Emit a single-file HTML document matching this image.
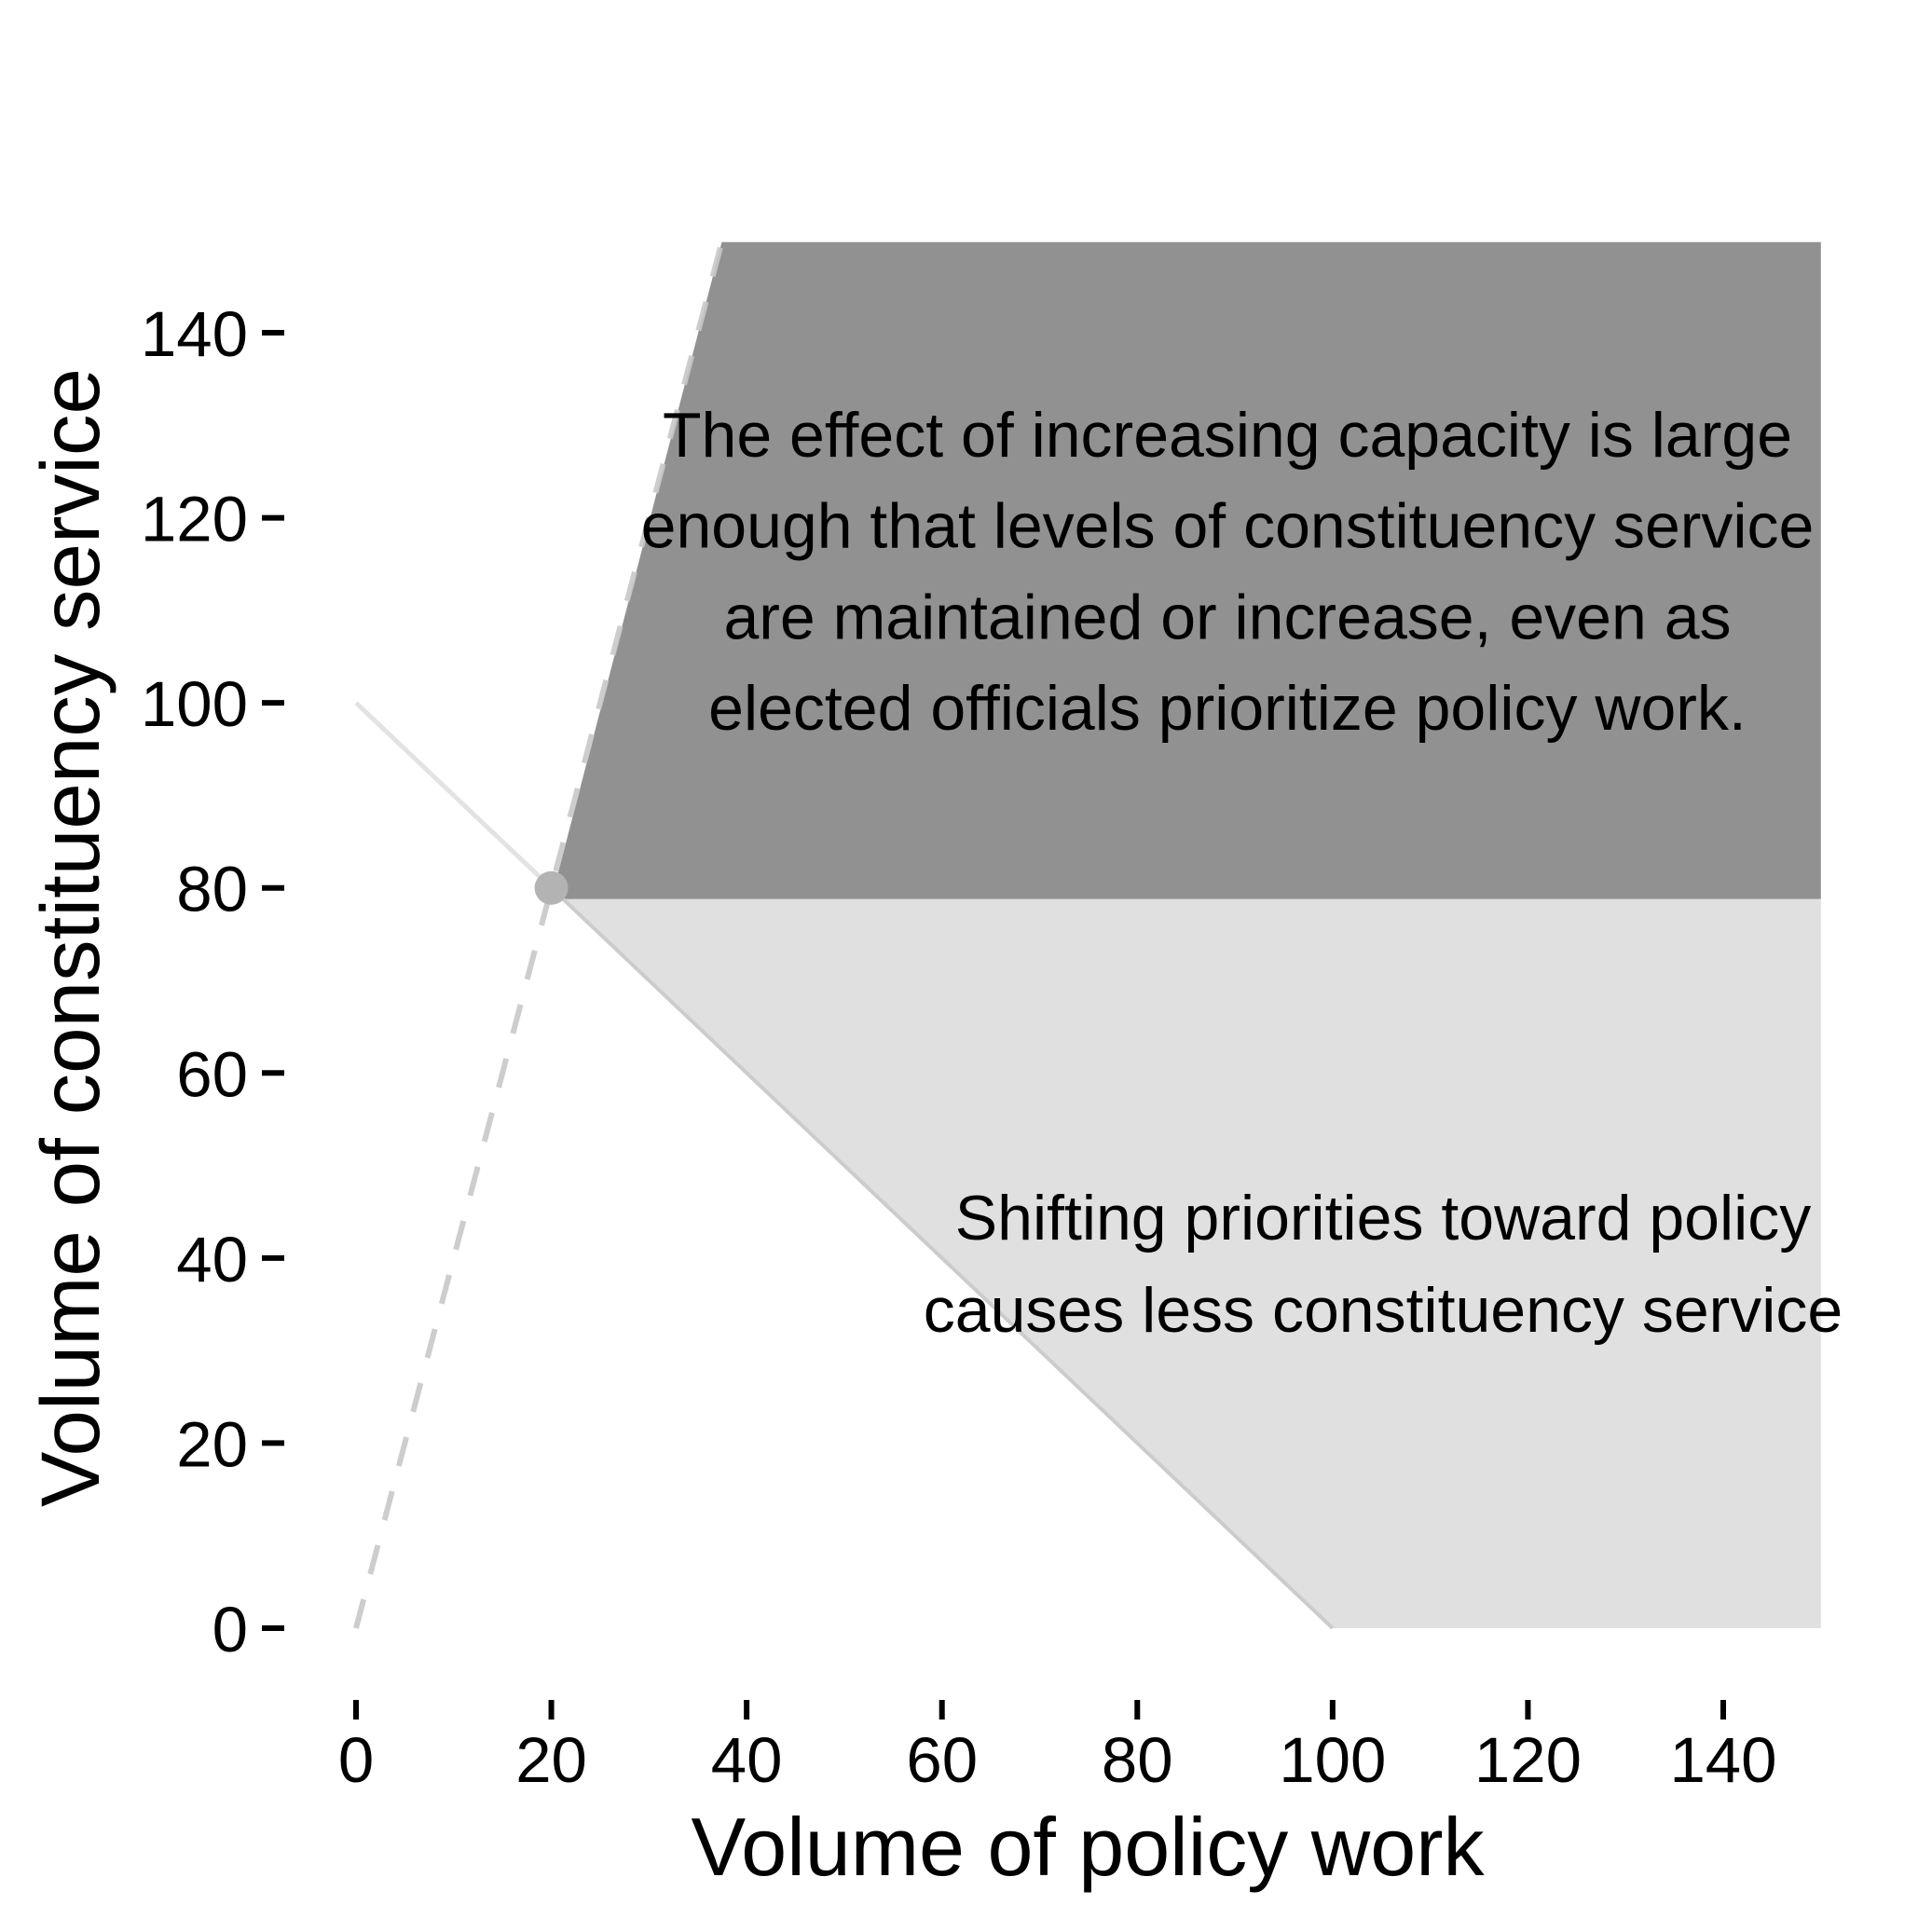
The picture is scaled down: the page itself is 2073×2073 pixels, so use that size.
<!DOCTYPE html>
<html><head><meta charset="utf-8"><style>
html,body{margin:0;padding:0;background:#fff}
svg{display:block;font-family:"Liberation Sans",Arial,sans-serif}
</style></head><body>
<svg id="chart" width="2073" height="2073" viewBox="0 0 2073 2073" xmlns="http://www.w3.org/2000/svg">
<g id="plot"></g>
</svg>
<script>
const xTicks = [0,20,40,60,80,100,120,140];
const yTicks = [0,20,40,60,80,100,120,140];
const startPoint = [20,80];
const capacityLineStart = [0,100];
const capacityLineEnd = [100,0];
const dashedOrigin = [0,0];
const xMax = 150, yMax = 149.8;
const highRegionBottom = 78.8;

const X0=382, XS=(1849-382)/140, Y0=1747, YS=(1747-357)/140;
const sx = v => X0 + v*XS;
const sy = v => Y0 - v*YS;
const NS="http://www.w3.org/2000/svg";
const g=document.getElementById('plot');
function mk(tag, attrs, parent){const e=document.createElementNS(NS,tag);for(const k in attrs)e.setAttribute(k,attrs[k]);(parent||g).appendChild(e);return e;}

const slope=(startPoint[1]-dashedOrigin[1])/(startPoint[0]-dashedOrigin[0]);
const xTop = startPoint[0]+(yMax-startPoint[1])/slope;

let light=mk('polygon',{points:`${sx(startPoint[0])},${sy(startPoint[1])} ${sx(startPoint[0])},${sy(highRegionBottom)} ${sx(xMax)},${sy(highRegionBottom)} ${sx(xMax)},${sy(0)} ${sx(capacityLineEnd[0])},${sy(0)}`,fill:'#e0e0e0'});


let dark=mk('polygon',{points:`${sx(startPoint[0])},${sy(highRegionBottom)} ${sx(xTop)},${sy(yMax)} ${sx(xMax)},${sy(yMax)} ${sx(xMax)},${sy(highRegionBottom)}`,fill:'#919191'});


let l1=mk('line',{x1:sx(capacityLineStart[0]),y1:sy(capacityLineStart[1]),x2:sx(startPoint[0]),y2:sy(startPoint[1]),stroke:'#e3e3e3','stroke-width':5});


let l2=mk('line',{x1:sx(startPoint[0]),y1:sy(startPoint[1]),x2:sx(capacityLineEnd[0]),y2:sy(capacityLineEnd[1]),stroke:'#cccccc','stroke-width':4});


let d=mk('line',{x1:sx(dashedOrigin[0]),y1:sy(dashedOrigin[1]),x2:sx(xTop),y2:sy(yMax),stroke:'#c8c8c8','stroke-width':6,'stroke-dasharray':'32 28',opacity:0.9});


let pt=mk('circle',{cx:sx(startPoint[0]),cy:sy(startPoint[1]),r:18,fill:'#b3b3b3'});



xTicks.forEach(t=>{
  let tk=mk('line',{x1:sx(t),x2:sx(t),y1:1824,y2:1845,stroke:'#000','stroke-width':6});
  
  
  let tx=mk('text',{x:sx(t),y:1912,'text-anchor':'middle','font-size':69,fill:'#000'});
  tx.textContent=t;
  
  
});
yTicks.forEach(t=>{
  let tk=mk('line',{x1:281,x2:305,y1:sy(t),y2:sy(t),stroke:'#000','stroke-width':6});
  
  
  let tx=mk('text',{x:266,y:sy(t)+25,'text-anchor':'end','font-size':69,fill:'#000'});
  tx.textContent=t;
  
  
});
let xt=mk('text',{x:1167,y:2012,'text-anchor':'middle','font-size':88,fill:'#000'});
xt.textContent='Volume of policy work';


let yt=mk('text',{x:0,y:0,'text-anchor':'middle','font-size':89,fill:'#000',transform:'translate(106,1006) rotate(-90)'});
yt.textContent='Volume of constituency service';



const topNote=['The effect of increasing capacity is large','enough that levels of constituency service','are maintained or increase, even as','elected officials prioritize policy work.'];
const botNote=['Shifting priorities toward policy','causes less constituency service'];
topNote.forEach((s,i)=>{let t=mk('text',{x:1317,y:490+i*97.7,'text-anchor':'middle','font-size':68,fill:'#000'});t.textContent=s;

});
botNote.forEach((s,i)=>{let t=mk('text',{x:1484,y:1330+i*99,'text-anchor':'middle','font-size':68,fill:'#000'});t.textContent=s;

});
</script>
</body></html>
